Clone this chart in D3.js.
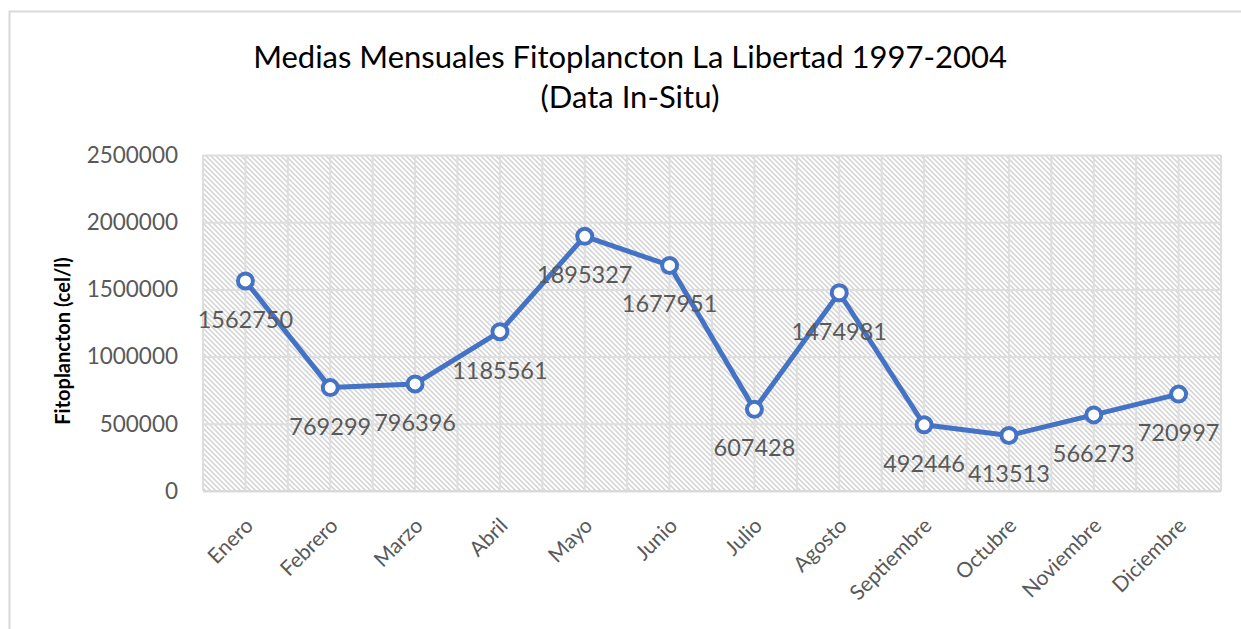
<!DOCTYPE html>
<html>
<head>
<meta charset="utf-8">
<script src="https://cdn.jsdelivr.net/npm/d3@7"></script>
<style>
  html, body { margin: 0; padding: 0; background: #fff; }
  svg { display: block; }
  text { font-family: Lato, "Open Sans", "Liberation Sans", sans-serif; }
</style>
</head>
<body>
<svg id="chart" width="1241" height="629"></svg>
<script>
// Monthly means of phytoplankton, La Libertad 1997-2004
const months = ["Enero", "Febrero", "Marzo", "Abril", "Mayo", "Junio", "Julio",
  "Agosto", "Septiembre", "Octubre", "Noviembre", "Diciembre"];
const cellsPerLitre = [1562750, 769299, 796396, 1185561, 1895327, 1677951, 607428,
  1474981, 492446, 413513, 566273, 720997];
const yTicks = [0, 500000, 1000000, 1500000, 2000000, 2500000];
const titleLines = ["Medias Mensuales Fitoplancton La Libertad 1997-2004", "(Data In-Situ)"];
const yAxisTitle = "Fitoplancton (cel/l)";

const svg = d3.select("#chart");
const plot = { left: 203, right: 1221, top: 155, bottom: 491 };

// Chart frame
svg.append("rect")
  .attr("x", 9.5).attr("y", 11.5)
  .attr("width", 1260).attr("height", 640)
  .attr("fill", "#fff").attr("stroke", "#d9d9d9").attr("stroke-width", 2);

// Diagonal hatch used as plot-area fill
const defs = svg.append("defs");
const pat = defs.append("pattern")
  .attr("id", "hatch").attr("patternUnits", "userSpaceOnUse")
  .attr("width", 5).attr("height", 5);
pat.append("rect").attr("width", 5).attr("height", 5).attr("fill", "#fff");
pat.append("path")
  .attr("d", "M-1,-1 L6,6 M-1,4 L1,6 M4,-1 L6,1")
  .attr("stroke", "#d3d3d3").attr("stroke-width", 1.5);

const x = d3.scaleBand().domain(months).range([plot.left, plot.right]).padding(0);
const y = d3.scaleLinear().domain([0, 2500000]).range([plot.bottom, plot.top]);

svg.append("rect")
  .attr("x", plot.left).attr("y", plot.top)
  .attr("width", plot.right - plot.left).attr("height", plot.bottom - plot.top)
  .attr("fill", "url(#hatch)");

// Vertical gridlines at category edges and centres
const half = x.bandwidth() / 2;
const vLines = d3.range(0, months.length * 2 + 1).map(i => plot.left + i * half);
svg.append("g").selectAll("line").data(vLines).join("line")
  .attr("x1", d => d).attr("x2", d => d)
  .attr("y1", plot.top).attr("y2", plot.bottom)
  .attr("stroke", "#dedede").attr("stroke-width", 2);

// Horizontal gridlines + y axis labels
const yAxis = d3.axisLeft(y).tickValues(yTicks).tickFormat(d3.format("d"))
  .tickSize(-(plot.right - plot.left)).tickPadding(25);
const gy = svg.append("g").attr("transform", `translate(${plot.left},0)`).call(yAxis);
gy.select(".domain").remove();
gy.selectAll(".tick line").attr("stroke", "#dedede").attr("stroke-width", 2);
gy.selectAll(".tick text")
  .attr("fill", "#595959").attr("font-size", 22.5).style("font-family", "Lato, sans-serif");

// Bottom axis line
svg.append("line")
  .attr("x1", plot.left).attr("x2", plot.right)
  .attr("y1", plot.bottom).attr("y2", plot.bottom)
  .attr("stroke", "#d9d9d9").attr("stroke-width", 2);

// Category labels rotated -45°
const xAxis = d3.axisBottom(x).tickSize(0).tickPadding(0);
const gx = svg.append("g").attr("transform", `translate(0,${plot.bottom})`).call(xAxis);
gx.select(".domain").remove();
gx.selectAll(".tick text")
  .attr("fill", "#595959").attr("font-size", 21).style("font-family", "Lato, sans-serif")
  .attr("text-anchor", "end").attr("dy", null)
  .attr("transform", "translate(9,36) rotate(-45)");

// Series line
const cx = (d, i) => x(months[i]) + half;
svg.append("path")
  .datum(cellsPerLitre)
  .attr("fill", "none").attr("stroke", "#4472c4").attr("stroke-width", 5)
  .attr("stroke-linejoin", "round")
  .attr("d", d3.line().x(cx).y(d => y(d)));

// Markers
svg.append("g").selectAll("circle").data(cellsPerLitre).join("circle")
  .attr("cx", cx).attr("cy", d => y(d)).attr("r", 7.5)
  .attr("fill", "#fff").attr("stroke", "#4472c4").attr("stroke-width", 4);

// Value labels below each point
svg.append("g").selectAll("text").data(cellsPerLitre).join("text")
  .attr("x", (d, i) => cx(d, i)).attr("y", d => y(d) + 47)
  .attr("text-anchor", "middle")
  .attr("fill", "#595959").attr("font-size", 23.5)
  .text(d => d);

// Title
svg.append("g").selectAll("text").data(titleLines).join("text")
  .attr("x", 630).attr("y", (d, i) => 68 + i * 40)
  .attr("text-anchor", "middle")
  .attr("fill", "#000").attr("font-size", 31)
  .text(d => d);

// Y axis title
svg.append("text")
  .attr("transform", "translate(70,341) rotate(-90)")
  .attr("text-anchor", "middle")
  .attr("font-weight", "bold").attr("font-size", 20).attr("fill", "#000")
  .text(yAxisTitle);
</script>
</body>
</html>
